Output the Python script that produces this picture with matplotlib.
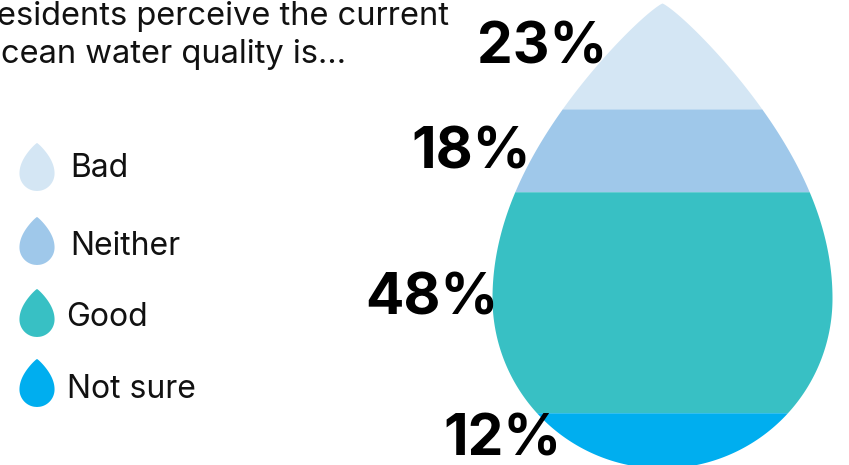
import numpy as np
import matplotlib
matplotlib.use("Agg")
import matplotlib.pyplot as plt

# ---- data ----
categories = ["Bad", "Neither", "Good", "Not sure"]
values = [23, 18, 48, 12]
labels = ["23%", "18%", "48%", "12%"]
colors = ["#D4E6F4", "#9FC8EA", "#38C0C4", "#00AEEF"]
title_lines = ["Residents perceive the current", "Ocean water quality is…"]

W, H = 849, 465
fig = plt.figure(figsize=(W / 100, H / 100), dpi=100)
ax = fig.add_axes([0, 0, 1, 1])

total = sum(values)
k = 465 / total          # pixels per data unit
top_px = 3               # apex pixel
ax.set_xlim(0, W / k)
ax.set_ylim((H - top_px) / k, -top_px / k)
ax.axis("off")

def px(x, y):
    return x / k, (y - top_px) / k

cx = 662 / k
R = 170 / k

def halfwidth(y, h=total, r=R):
    yc_ = h - r
    y = np.asarray(y, dtype=float)
    out = np.zeros_like(y)
    up = y <= yc_
    out[up] = r * np.sin(np.pi / 2 * np.clip(y[up] / yc_, 0, 1)) ** 0.85
    lo = ~up
    out[lo] = np.sqrt(np.clip(r ** 2 - (y[lo] - yc_) ** 2, 0, None))
    return out

# label nudges (pixels): gap from drop edge, vertical shift
label_gap = [-3, 5, -6, 8]
label_dy = [-7, 3, -3, 0]

# main drop bands
cum = np.concatenate([[0], np.cumsum(values)])
for i, (v, c, lab) in enumerate(zip(values, colors, labels)):
    y = np.linspace(cum[i], cum[i + 1], 300)
    hw = halfwidth(y)
    ax.fill_betweenx(y, cx - hw, cx + hw, color=c, lw=0)
    ym = (cum[i] + cum[i + 1]) / 2
    xl = cx - halfwidth([ym])[0] - label_gap[i] / k
    ax.text(xl, ym + label_dy[i] / k, lab, ha="right", va="center", fontsize=41,
            fontweight="bold", family="Inter", color="#000000")

# legend icons
icon_h = 48 / k
icon_r = icon_h * R / total
icon_cx = 37
icon_cy = [167, 241, 313, 383]
text_x = [70, 70, 66, 67]
text_base = [177, 255, 326, 398]
yy = np.linspace(0, icon_h, 200)
hh = halfwidth(yy, icon_h, icon_r)
for c, cat, cy, tx, tb in zip(colors, categories, icon_cy, text_x, text_base):
    x0, y0 = px(icon_cx, cy)
    ax.fill(np.concatenate([x0 - hh, (x0 + hh)[::-1]]),
            np.concatenate([y0 - icon_h / 2 + yy, (y0 - icon_h / 2 + yy)[::-1]]),
            color=c, lw=0)
    ax.text(*px(tx, tb), cat, ha="left", va="baseline", fontsize=23,
            family="Inter", color="#111111")

# title (cropped at left)
for line, base in zip(title_lines, [25, 63]):
    ax.text(*px(-24, base), line, ha="left", va="baseline", fontsize=23.5,
            family="Inter", color="#111111", clip_on=False)

fig.savefig("out.png", dpi=100)
